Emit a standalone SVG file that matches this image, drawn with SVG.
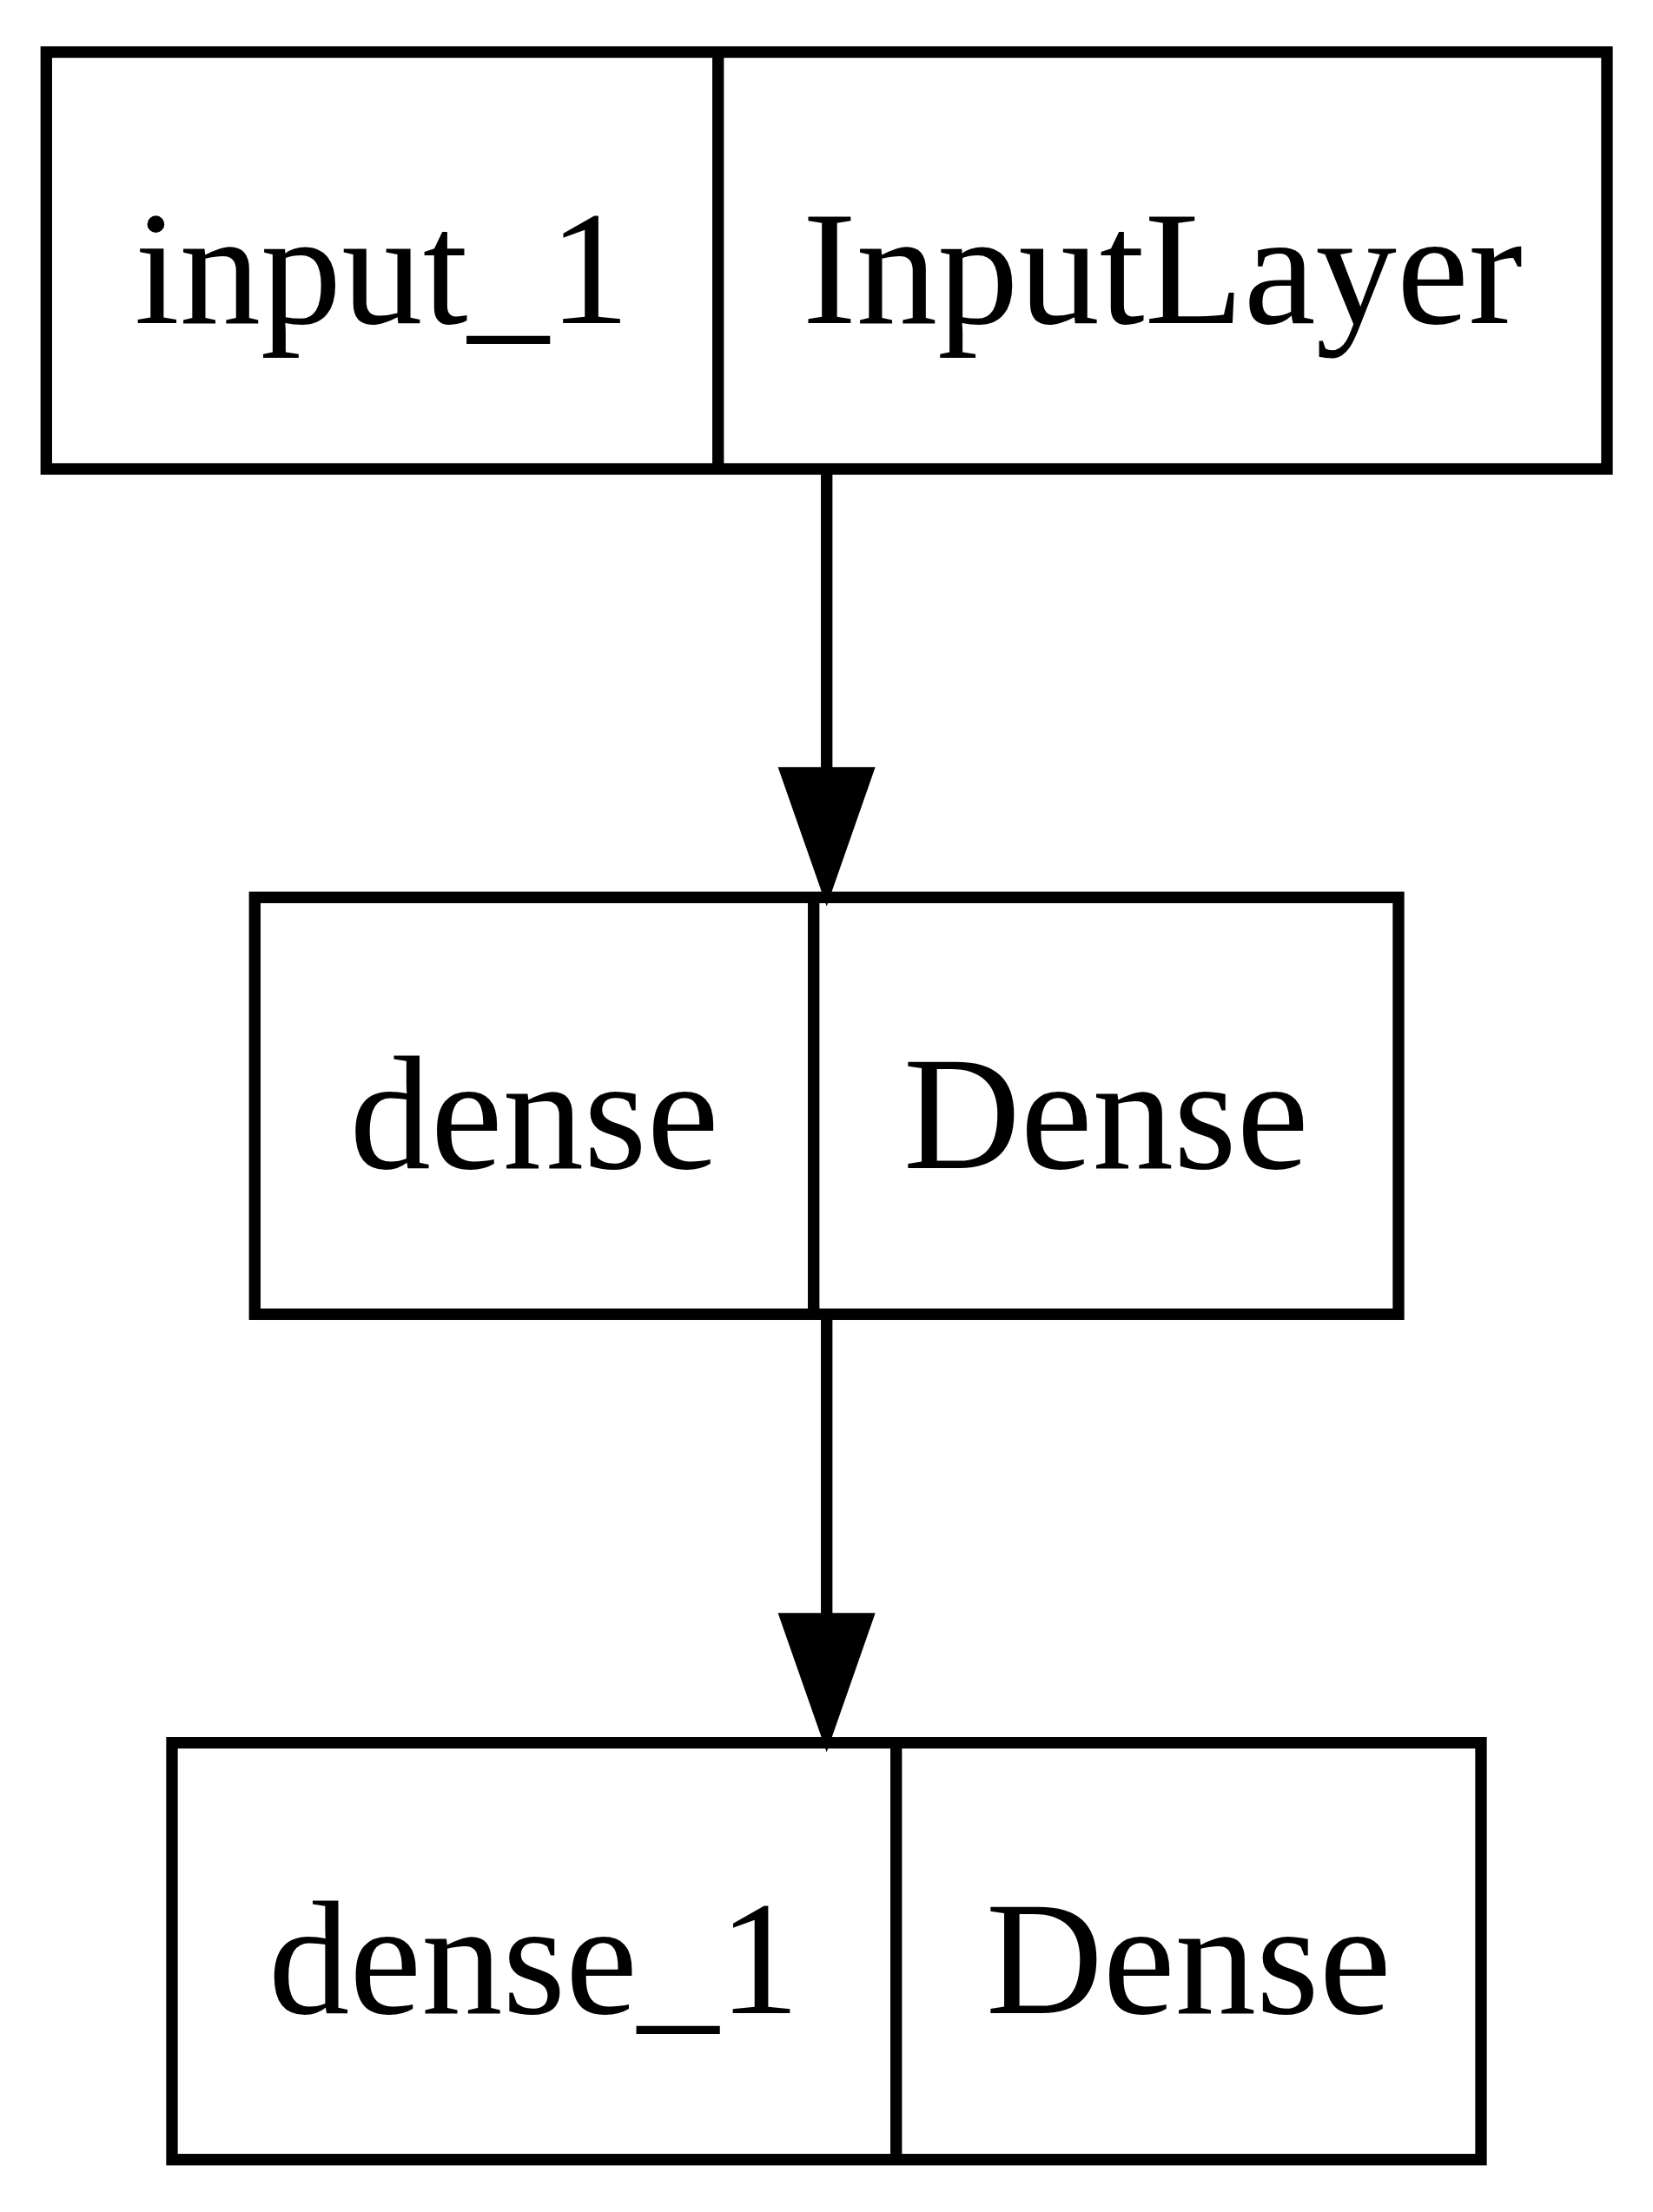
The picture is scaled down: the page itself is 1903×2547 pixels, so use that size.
<svg xmlns="http://www.w3.org/2000/svg" width="1903" height="2547" viewBox="0 0 1903 2547">
<style>
.box{fill:none;stroke:#000;stroke-width:13.333}
.t{font-family:"Liberation Serif","Times New Roman",serif;font-size:186.67px;fill:#000;text-anchor:middle}
.edge{stroke:#000;stroke-width:13.333;fill:none}
.head{fill:#000;stroke:#000;stroke-width:13.333;stroke-miterlimit:10}
</style>
<rect width="1903" height="2547" fill="#fff"/>
<g id="input_1">
<rect class="box" x="53.3" y="60" width="1796.7" height="480"/>
<line class="box" x1="826.7" y1="60" x2="826.7" y2="540"/>
<text class="t" x="440" y="371.7">input_1</text>
<text class="t" x="1338.3" y="371.7">InputLayer</text>
</g>
<g id="dense">
<rect class="box" x="293.3" y="1033.3" width="1316.7" height="480"/>
<line class="box" x1="936.7" y1="1033.3" x2="936.7" y2="1513.3"/>
<text class="t" x="615" y="1345">dense</text>
<text class="t" x="1273.3" y="1345">Dense</text>
</g>
<g id="dense_1">
<rect class="box" x="198" y="2006.7" width="1507" height="480"/>
<line class="box" x1="1031.7" y1="2006.7" x2="1031.7" y2="2486.7"/>
<text class="t" x="614.8" y="2318.3">dense_1</text>
<text class="t" x="1368.3" y="2318.3">Dense</text>
</g>
<g id="connectors">
<line class="edge" x1="951.7" y1="540" x2="951.7" y2="890"/>
<polygon class="head" points="905,890 998.3,890 951.7,1023.3"/>
<line class="edge" x1="951.7" y1="1513.3" x2="951.7" y2="1864"/>
<polygon class="head" points="905,1864 998.3,1864 951.7,1997.3"/>
</g>
</svg>
